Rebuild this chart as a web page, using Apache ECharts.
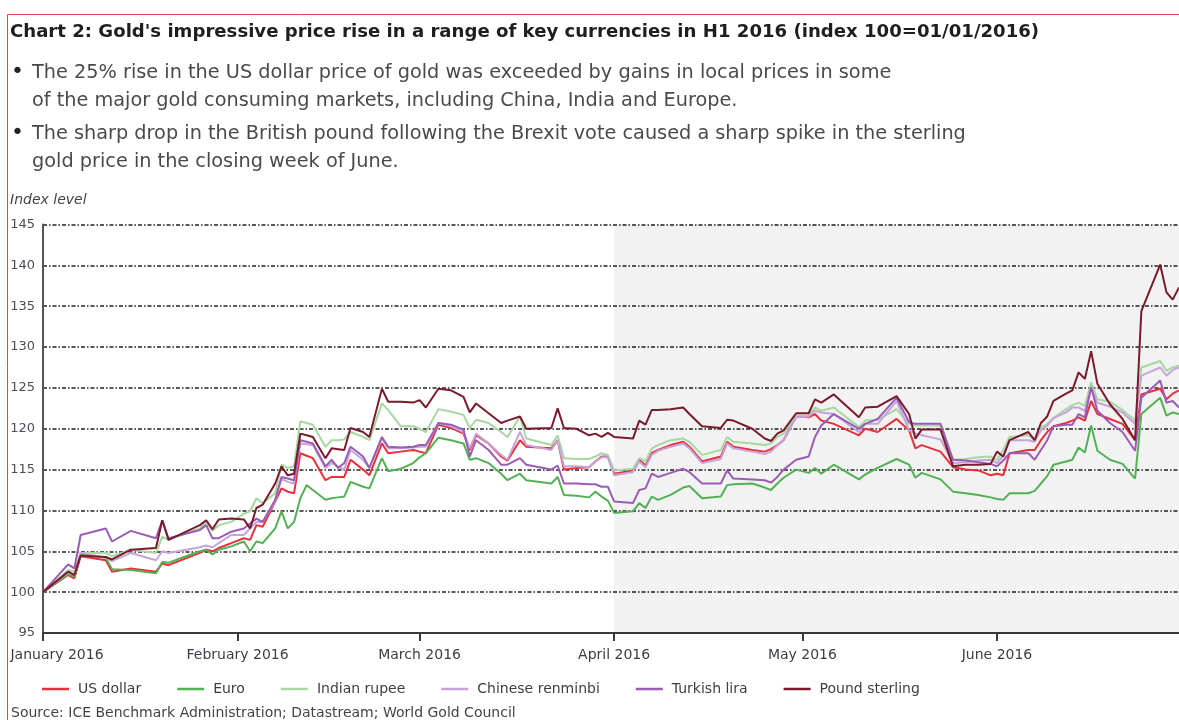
<!DOCTYPE html>
<html><head><meta charset="utf-8">
<script src="https://cdn.jsdelivr.net/npm/echarts@6/dist/echarts.min.js"></script>
<style>html,body{margin:0;padding:0;background:#fff}#c{width:1179px;height:720px}</style>
</head><body><div id="c"></div>
<script>
const dates = ['2016-01-01','2016-01-05','2016-01-06','2016-01-07','2016-01-11','2016-01-12','2016-01-15','2016-01-19','2016-01-20','2016-01-21',
'2016-01-26','2016-01-27','2016-01-28','2016-01-29','2016-01-31','2016-02-02','2016-02-03','2016-02-04','2016-02-05','2016-02-07',
'2016-02-08','2016-02-09','2016-02-10','2016-02-11','2016-02-12','2016-02-13','2016-02-15','2016-02-16','2016-02-17','2016-02-18',
'2016-02-19','2016-02-21','2016-02-22','2016-02-24','2016-02-25','2016-02-27','2016-02-29','2016-03-01','2016-03-02','2016-03-04',
'2016-03-06','2016-03-08','2016-03-09','2016-03-10','2016-03-12','2016-03-14','2016-03-15','2016-03-17','2016-03-18','2016-03-22',
'2016-03-23','2016-03-24','2016-03-26','2016-03-28','2016-03-29','2016-03-30','2016-03-31','2016-04-01','2016-04-04','2016-04-05',
'2016-04-06','2016-04-07','2016-04-08','2016-04-10','2016-04-12','2016-04-13','2016-04-15','2016-04-18','2016-04-19','2016-04-20',
'2016-04-23','2016-04-25','2016-04-26','2016-04-27','2016-04-28','2016-04-30','2016-05-02','2016-05-03','2016-05-04','2016-05-06',
'2016-05-10','2016-05-11','2016-05-13','2016-05-16','2016-05-18','2016-05-19','2016-05-20','2016-05-23','2016-05-25','2016-05-27',
'2016-05-29','2016-05-31','2016-06-01','2016-06-02','2016-06-03','2016-06-06','2016-06-07','2016-06-08','2016-06-09','2016-06-10',
'2016-06-12','2016-06-13','2016-06-14','2016-06-15','2016-06-16','2016-06-17','2016-06-19','2016-06-21','2016-06-23','2016-06-24',
'2016-06-27','2016-06-28','2016-06-29','2016-06-30'];

const usDollar = [100,102.1,101.7,104.4,103.9,102.5,102.9,102.5,103.5,103.3,
104.8,105.2,105.0,105.4,106.0,106.6,106.4,108.2,108.0,111.1,
112.7,112.3,112.1,117.0,116.7,116.4,113.7,114.1,114.1,114.1,
116.2,115.0,114.3,118.2,117.0,117.2,117.4,117.2,117.0,120.5,
120.1,119.4,117.4,119.2,118.2,116.6,116.1,118.6,117.8,117.6,
118.6,115.0,115.2,115.3,116.0,116.6,116.6,114.5,114.9,116.2,
115.5,117.0,117.4,118.0,118.4,117.8,116.0,116.6,118.4,117.8,
117.4,117.2,117.5,118.0,118.6,121.6,121.4,121.8,121.0,120.6,
119.2,120.0,119.6,121.2,119.8,117.6,118.0,117.2,115.3,115.0,
114.9,114.3,114.5,114.3,117.0,117.4,117.4,118.6,119.6,120.3,
120.7,121.0,121.4,121.0,123.4,121.8,121.2,120.6,118.6,124.2,
124.9,123.6,124.3,124.7];

const euro = [100,102.2,101.9,104.6,104.2,102.8,102.7,102.3,103.7,103.6,
105.0,105.2,104.6,105.2,105.6,106.2,105.0,106.2,106.0,107.8,
109.9,107.8,108.6,111.5,113.1,112.5,111.3,111.5,111.6,111.7,
113.5,112.9,112.7,116.4,114.8,115.1,115.8,116.5,117.0,118.9,
118.6,118.2,116.2,116.4,115.8,114.5,113.7,114.5,113.7,113.3,
114.1,111.9,111.8,111.6,112.3,111.7,111.2,109.7,109.9,110.9,
110.3,111.7,111.3,111.9,112.8,113.0,111.5,111.7,113.1,113.2,
113.3,112.8,112.5,113.3,114.0,115.0,114.6,115.2,114.5,115.6,
113.8,114.4,115.2,116.3,115.6,114.0,114.6,113.8,112.3,112.1,
111.9,111.6,111.4,111.3,112.1,112.1,112.4,113.3,114.2,115.6,
116.0,116.2,117.7,117.1,120.4,117.3,116.2,115.7,113.9,121.8,
123.8,121.6,122.0,121.8];

const indianRupee = [100,102.7,102.5,104.8,104.8,104.4,105.2,104.8,106.8,106.4,
107.8,108.6,107.5,108.2,108.6,109.6,109.9,111.5,110.9,112.1,
115.6,115.2,115.4,120.9,120.7,120.5,117.8,118.6,118.6,118.7,
119.6,119.0,118.6,123.1,122.3,120.3,120.3,120.0,119.6,122.4,
122.1,121.7,120.1,121.1,120.7,119.6,119.0,121.5,118.8,118.0,
119.2,116.4,116.3,116.3,116.6,117.0,116.8,114.9,115.1,116.4,
116.0,117.6,118.0,118.6,118.8,118.4,116.8,117.4,119.0,118.4,
118.2,118.0,118.2,119.0,119.4,121.6,121.6,122.6,122.2,122.6,
120.2,121.0,121.1,122.4,120.6,120.4,120.4,120.4,116.2,116.3,
116.5,116.6,116.2,117.4,119.0,119.2,118.6,120.1,120.6,121.3,
122.4,122.9,123.2,122.8,125.7,123.6,123.3,122.3,121.0,127.5,
128.3,127.1,127.5,127.7];

const chineseRenminbi = [100,102.4,102.1,104.8,104.2,103.8,104.8,103.9,105.0,104.8,
105.5,105.7,105.5,106.0,107.0,107.0,107.8,108.6,108.6,111.1,
113.9,113.5,113.3,118.2,118.1,118.0,115.2,115.8,115.4,115.0,
117.4,116.2,115.2,118.8,117.6,117.6,117.7,117.8,117.8,120.7,
120.3,119.6,117.6,119.4,118.2,116.8,116.2,119.6,118.0,117.4,
118.6,115.4,115.4,115.3,116.0,116.5,116.5,114.3,114.7,116.0,
115.3,116.8,117.3,117.8,118.2,117.6,115.8,116.3,118.2,117.6,
117.2,116.9,117.2,118.0,118.6,121.4,121.5,122.2,122.0,121.8,
119.6,120.6,120.6,123.4,119.8,119.4,119.2,118.7,115.8,115.9,
116.1,116.2,115.8,116.7,118.6,118.6,118.4,119.8,120.4,121.3,
122.0,122.6,122.6,122.2,125.1,123.2,122.7,122.0,120.6,126.5,
127.5,126.5,127.2,127.5];

const turkishLira = [100,103.4,102.9,107.0,107.8,106.2,107.5,106.6,108.8,106.6,
107.6,108.2,106.6,106.6,107.4,107.8,108.4,109.0,108.6,111.3,
114.1,113.9,113.7,118.6,118.4,118.2,115.4,116.2,115.2,115.8,
117.8,116.6,115.2,119.0,117.8,117.7,117.8,118.0,118.0,120.7,
120.5,119.9,116.6,118.6,117.4,115.6,115.6,116.4,115.6,115.0,
115.5,113.3,113.3,113.2,113.2,112.9,112.9,111.1,110.9,112.5,
112.7,114.5,114.1,114.6,115.1,114.7,113.3,113.3,114.9,113.9,
113.8,113.7,113.4,114.1,115.0,116.2,116.6,119.0,120.4,121.8,
120.0,120.6,121.2,123.8,120.8,120.6,120.6,120.6,116.2,116.1,
115.9,115.7,115.4,116.1,117.0,117.0,116.2,117.4,118.6,120.3,
120.5,120.5,121.8,121.4,125.1,122.2,120.7,119.6,117.3,123.8,
125.9,123.2,123.4,122.6];

const poundSterling = [100,102.5,102.1,104.5,104.3,104.0,105.2,105.4,108.8,106.4,
108.2,108.8,107.7,108.9,109.0,108.9,107.8,110.3,110.7,113.3,
115.4,114.3,114.5,119.4,119.2,119.0,116.4,117.6,117.5,117.4,
120.1,119.6,119.0,124.9,123.3,123.3,123.2,123.5,122.6,124.9,
124.7,123.9,122.0,123.1,121.9,120.7,121.0,121.5,120.0,120.1,
122.5,120.1,120.0,119.2,119.4,119.0,119.5,119.0,118.8,121.0,
120.5,122.3,122.3,122.4,122.6,121.8,120.3,120.1,121.1,121.0,
120.0,118.8,118.5,119.4,119.8,121.9,121.9,123.6,123.2,124.2,
121.4,122.6,122.7,124.0,121.8,118.8,119.9,119.9,115.4,115.6,
115.6,115.7,117.2,116.6,118.6,119.6,118.6,120.7,121.5,123.4,
124.3,124.7,126.9,126.1,129.5,125.5,123.0,121.2,118.6,134.4,
140.1,136.7,135.8,137.3];

const seriesNames = ['US dollar','Euro','Indian rupee','Chinese renminbi','Turkish lira','Pound sterling'];
const seriesValues = [usDollar, euro, indianRupee, chineseRenminbi, turkishLira, poundSterling];
const monthTicks = ['2016-01-01','2016-02-01','2016-03-01','2016-04-01','2016-05-01','2016-06-01'];
const monthLabels = ['January 2016','February 2016','March 2016','April 2016','May 2016','June 2016'];
const shadeStart = '2016-04-01';
const axisStart = '2016-01-01';
const axisEnd = '2016-06-30';

const colors = ['#e8303a','#52b152','#a6d89f','#c7a3d9','#9b5cb6','#7a1b2b'];
const FONT = '"DejaVu Sans"';

function toTime(s){ const p = s.split('-'); return Date.UTC(+p[0], +p[1]-1, +p[2]); }
const tickTimes = monthTicks.map(toTime);

const series = seriesNames.map((name, k) => {
  const s = {
    name: name,
    type: 'line',
    symbol: 'none',
    data: dates.map((d, i) => [toTime(d), seriesValues[k][i]]),
    lineStyle: { width: 2, color: colors[k] },
    itemStyle: { color: colors[k] },
    z: 3 + k
  };
  if (k === 0) {
    s.markArea = {
      silent: true,
      itemStyle: { color: 'rgba(0,0,0,0.052)' },
      data: [[{ xAxis: toTime(shadeStart) }, { xAxis: toTime(axisEnd) }]]
    };
  }
  return s;
});

const chart = echarts.init(document.getElementById('c'), null, { renderer: 'canvas' });
chart.setOption({
  animation: false,
  backgroundColor: '#ffffff',
  textStyle: { fontFamily: 'DejaVu Sans' },
  grid: { left: 43, right: 0, top: 224.5, bottom: 87, containLabel: false },
  xAxis: {
    type: 'value',
    min: toTime(axisStart),
    max: toTime(axisEnd),
    axisLine: { show: true, onZero: false, lineStyle: { color: '#3a3a3a', width: 2 } },
    axisTick: { show: true, customValues: tickTimes, length: 8, lineStyle: { color: '#3a3a3a', width: 2 } },
    axisLabel: {
      customValues: tickTimes,
      margin: 15,
      fontSize: 14,
      color: '#3d3d45',
      fontFamily: 'DejaVu Sans',
      formatter: function (v) {
        const m = new Date(v).getUTCMonth();
        return m === 0 ? '{first|' + monthLabels[0] + '}' : monthLabels[m];
      },
      rich: { first: { padding: [0, 0, 0, 28], fontSize: 14, color: '#3d3d45', fontFamily: 'DejaVu Sans' } }
    },
    splitLine: { show: false }
  },
  yAxis: {
    type: 'value',
    min: 95, max: 145, interval: 5,
    axisLine: { show: true, lineStyle: { color: '#555555', width: 2 } },
    axisTick: { show: false },
    axisLabel: { margin: 8, fontSize: 13, color: '#4a4f5a', fontFamily: 'DejaVu Sans' },
    splitLine: { show: true, lineStyle: { color: '#222', width: 1.5, type: [4, 2, 1.5, 2] } }
  },
  legend: {
    data: seriesNames,
    left: 37, top: 677,
    icon: 'rect',
    itemWidth: 27, itemHeight: 2.5, itemGap: 36,
    textStyle: { fontSize: 14, color: '#3d3d45', fontFamily: 'DejaVu Sans', padding: [0, 0, 0, 4] }
  },
  series: series,
  graphic: [
    { type: 'polyline', silent: true, shape: { points: [[7.5, 730], [7.5, 14.5], [1179, 14.5]] }, style: { stroke: '#e34444', lineWidth: 1, fill: null } },
    { type: 'text', left: 10, top: 23, style: { text: "Chart 2: Gold's impressive price rise in a range of key currencies in H1 2016 (index 100=01/01/2016)", font: 'bold 18.1px ' + FONT, fill: '#1e1e1e' } },
    { type: 'text', left: 11, top: 61, style: { text: '•', font: '22px ' + FONT, fill: '#222' } },
    { type: 'text', left: 32, top: 63, style: { text: 'The 25% rise in the US dollar price of gold was exceeded by gains in local prices in some', font: '19.3px ' + FONT, fill: '#4a4a4a' } },
    { type: 'text', left: 32, top: 91, style: { text: 'of the major gold consuming markets, including China, India and Europe.', font: '19.3px ' + FONT, fill: '#4a4a4a' } },
    { type: 'text', left: 11, top: 122, style: { text: '•', font: '22px ' + FONT, fill: '#222' } },
    { type: 'text', left: 32, top: 124, style: { text: 'The sharp drop in the British pound following the Brexit vote caused a sharp spike in the sterling', font: '19.3px ' + FONT, fill: '#4a4a4a' } },
    { type: 'text', left: 32, top: 152, style: { text: 'gold price in the closing week of June.', font: '19.3px ' + FONT, fill: '#4a4a4a' } },
    { type: 'text', left: 10, top: 193, style: { text: 'Index level', font: 'italic 14px ' + FONT, fill: '#444' } },
    { type: 'text', left: 11, top: 706.5, style: { text: 'Source: ICE Benchmark Administration; Datastream; World Gold Council', font: '14px ' + FONT, fill: '#444' } }
  ]
});
</script>
</body></html>
